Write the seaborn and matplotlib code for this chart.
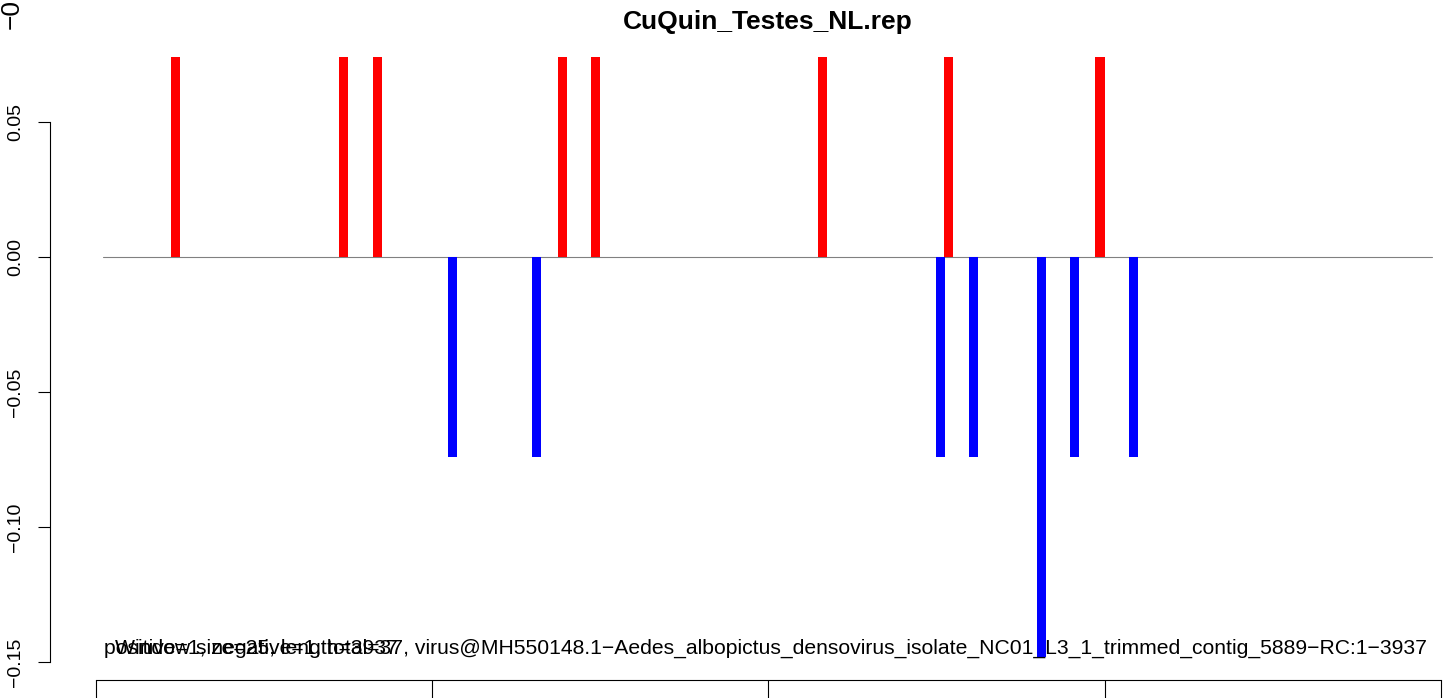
import matplotlib
matplotlib.use('Agg')
import matplotlib.pyplot as plt
import pandas as pd
import seaborn as sns

# Window positions (bp) and normalised counts
pos_x = [236, 736, 836, 1387, 1485, 2160, 2535, 2986]
pos_y = [0.074, 0.074, 0.074, 0.074, 0.074, 0.074, 0.074, 0.074]
neg_x = [1059, 1309, 2511, 2609, 2811, 2910, 3085]
neg_y = [-0.074, -0.074, -0.074, -0.074, -0.148, -0.074, -0.074]

x_ticks = [0, 1000, 2000, 3000, 4000]
y_ticks = [-0.15, -0.10, -0.05, 0.00, 0.05]
y_tick_labels = ['\u22120.15', '\u22120.10', '\u22120.05', '0.00', '0.05']
zero_line_x = [21, 3973]

title = 'CuQuin_Testes_NL.rep'
info_1 = ('positive=1, negative=1, total=37, virus@MH550148.1\u2212Aedes_albopictus_densovirus_isolate_'
          'NC01_L3_1_trimmed_contig_5889\u2212RC:1\u22123937')
info_2 = 'Window size=25, length=3937'
cut_label = '\u22120.20'

df = pd.DataFrame({
    'x': pos_x + neg_x,
    'y': pos_y + neg_y,
    'strand': ['pos'] * len(pos_x) + ['neg'] * len(neg_x),
})

sns.set_style('ticks')
plt.rcParams['font.family'] = ['Liberation Sans', 'DejaVu Sans']
plt.rcParams['text.color'] = 'black'
plt.rcParams['xtick.color'] = 'black'
plt.rcParams['ytick.color'] = 'black'
plt.rcParams['axes.edgecolor'] = 'black'

W, H = 1444, 698
fig = plt.figure(figsize=(W / 100, H / 100), dpi=100)

# plot region in pixels
left_px, right_px, top_px, bottom_px = 62, 1443, 40, 668
ax = fig.add_axes([left_px / W, 1 - bottom_px / H, (right_px - left_px) / W, (bottom_px - top_px) / H])

ax.plot(zero_line_x, [0, 0], color='#808080', lw=0.8, zorder=1)

sns.barplot(data=df, x='x', y='y', hue='strand', palette={'pos': '#ff0000', 'neg': '#0000ff'},
            saturation=1, native_scale=True, orient='x', errorbar=None, legend=False,
            dodge=False, linewidth=0, ax=ax, zorder=2)

# one window = 25 bp wide bars (about 27 bp in the drawing)
bar_w = 27
for p in ax.patches:
    cx = p.get_x() + p.get_width() / 2
    p.set_width(bar_w)
    p.set_x(cx - bar_w / 2)

ax.set_xlim(-101, 4006)
ax.set_ylim((257 - bottom_px) / 2700, (257 - top_px) / 2700)

for s in ['top', 'right']:
    ax.spines[s].set_visible(False)
ax.spines['left'].set_position(('outward', 8.64))
ax.spines['bottom'].set_position(('outward', 8.64))
ax.spines['left'].set_bounds(-0.15, 0.05)
ax.spines['bottom'].set_bounds(0, 4000)
for s in ['left', 'bottom']:
    ax.spines[s].set_linewidth(0.8)

ax.set_xticks(x_ticks)
ax.set_xticklabels([])
ax.set_yticks(y_ticks)
ax.set_yticklabels(y_tick_labels, rotation=90, va='center', fontsize=14)
ax.tick_params(axis='y', length=8.64, width=0.8, pad=10)
ax.tick_params(axis='x', length=14, width=0.8)
ax.set_xlabel('')
ax.set_ylabel('')

fig.text(768 / W, 1 - 22 / H, title, ha='center', va='center', fontsize=19, fontweight='bold')
fig.text(104 / W, 1 - 654 / H, info_1, ha='left', va='baseline', fontsize=15.25)
fig.text(115 / W, 1 - 654 / H, info_2, ha='left', va='baseline', fontsize=15.25)
fig.text(12 / W, 1 - 29 / H, cut_label, ha='center', va='bottom', rotation=90, fontsize=19)

fig.savefig('out.png', dpi=100)
